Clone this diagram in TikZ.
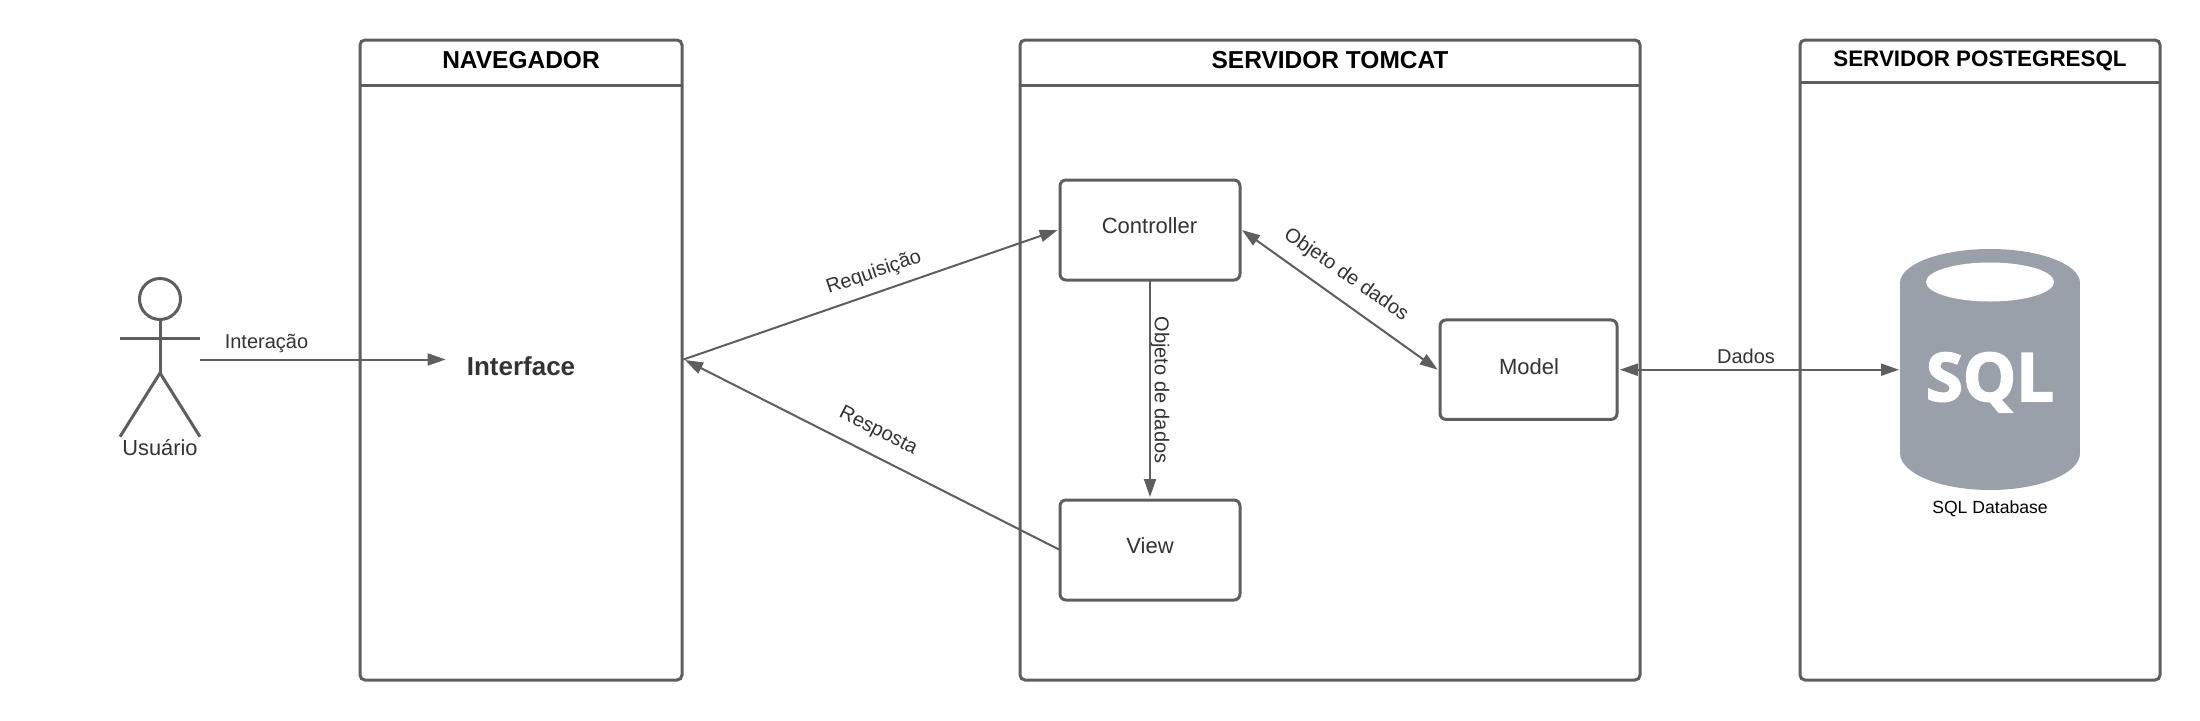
\documentclass[tikz,border=0pt]{standalone}
\usepackage{fontspec}
\setmainfont{Liberation Sans}
\newfontfamily\sqlfont{Open Sans}[BoldFeatures={FakeBold=2.5}]
\usetikzlibrary{arrows.meta}
\definecolor{lineg}{HTML}{5E5E5E}
\definecolor{dbg}{HTML}{99A0AA}
\definecolor{txt}{HTML}{333333}
\newcommand{\fsz}[1]{\fontsize{#1}{#1}\selectfont}
\tikzset{
  x=1pt,y=-1pt,
  panel/.style={draw=lineg,line width=3pt,rounded corners=5pt,inner sep=0,outer sep=0},
  mvcbox/.style={draw=lineg,line width=3pt,rounded corners=6pt,inner sep=0,outer sep=0,minimum width=#1,minimum height=100pt,text=txt,font=\fsz{22}},
  ttl/.style={inner sep=0,font=\bfseries\fsz{24.5},text=black},
  lbl/.style={inner sep=0,font=\fsz{20},text=txt},
  conn/.style={draw=lineg,line width=2pt},
  tip/.style={-{Triangle[length=18pt,width=12pt]}},
  tips/.style={{Triangle[length=18pt,width=12pt]}-{Triangle[length=18pt,width=12pt]}},
  stick/.style={draw=lineg,line width=3pt},
}
\begin{document}
\begin{tikzpicture}
\useasboundingbox[fill=white] (0,0) rectangle (2200,720);
% panels
\node[panel,minimum width=322pt,minimum height=640pt] (nav) at (521,360) {};
\node[panel,minimum width=620pt,minimum height=640pt] (tom) at (1330,360) {};
\node[panel,minimum width=360pt,minimum height=640pt] (pg) at (1980,360) {};
\draw[panel] ([yshift=-45.6pt]nav.north west) -- ([yshift=-45.6pt]nav.north east);
\draw[panel] ([yshift=-45.6pt]tom.north west) -- ([yshift=-45.6pt]tom.north east);
\draw[panel] ([yshift=-42.3pt]pg.north west) -- ([yshift=-42.3pt]pg.north east);
\node[ttl] (navt) at (521,60) {NAVEGADOR};
\node[ttl] (tomt) at (1330,60) {SERVIDOR TOMCAT};
\node[ttl,font=\bfseries\fsz{22.4}] (pgt) at (1980,60.5) {SERVIDOR POSTEGRESQL};
% actor
\node[draw=lineg,line width=3pt,circle,minimum size=41pt,inner sep=0,outer sep=0] (head) at (160,299) {};
\coordinate (hip) at (160,373);
\coordinate (armL) at (120,338.7);
\coordinate (armR) at (200,338.7);
\coordinate (legL) at (120,436.7);
\coordinate (legR) at (200,436.7);
\coordinate (hand) at (200,359.5);
\draw[stick] (head.south) -- (hip);
\draw[stick] (armL) -- (armR);
\draw[stick] (legL) -- (hip) -- (legR);
\node[inner sep=0,font=\fsz{21.8},text=txt] (usr) at (160,447.6) {Usuário};
% interface
\node[inner sep=21pt,font=\bfseries\fsz{26},text=txt] (iface) at (521,366) {Interface};
\draw[conn,tip] (hand) -- ([yshift=6.5pt]iface.west);
\node[lbl] (linter) at (266.5,343) {Interação};
% mvc boxes
\node[mvcbox=180pt] (ctrl) at (1150,230) {};
\node[mvcbox=180pt] (view) at (1150,550) {};
\node[mvcbox=177pt,minimum height=99.5pt] (model) at (1528.5,369.7) {};
\node[inner sep=0,font=\fsz{22},text=txt] (ctrlt) at (1149.5,226) {Controller};
\node[inner sep=0,font=\fsz{22},text=txt] (viewt) at (1150,546) {View};
\node[inner sep=0,font=\fsz{22},text=txt] (modelt) at (1529,366.5) {Model};
% connectors
\draw[conn,tip] (nav.east) -- ([xshift=-2.3pt]ctrl.west);
\draw[conn,tip] (view.west) -- ([xshift=3pt]nav.east);
\draw[conn,tips] ([xshift=2pt]ctrl.east) -- ([xshift=-2.3pt]model.west);
\draw[conn,tip] (ctrl.south) -- ([yshift=3pt]view.north);
% labels
\node[lbl,rotate=19] (lreq) at (874,273) {Requisição};
\node[lbl,rotate=-27] (lres) at (878,431.5) {Resposta};
\node[lbl,rotate=-35] (lobj1) at (1346,275) {Objeto de dados};
\node[lbl,rotate=-90] (lobj2) at (1160,390) {Objeto de dados};
\node[lbl] (ldad) at (1746,356) {Dados};
% database
\fill[dbg] (1900,283) rectangle (2080,453);
\fill[dbg] (1990,283) ellipse [x radius=90,y radius=34];
\fill[dbg] (1990,453) ellipse [x radius=90,y radius=37];
\fill[white] (1990,282) ellipse [x radius=64,y radius=19.5];
\node[inner sep=0,outer sep=1pt,minimum width=180pt,minimum height=241pt] (db) at (1990,369.7) {};
\node[anchor=base,inner sep=0,text=white,font=\sqlfont\bfseries\fsz{67}] (sqlt) at (1990,401) {SQL};
\node[inner sep=0,font=\fsz{17.6},text=black] (dbl) at (1990,508.5) {SQL Database};
\draw[conn,tips] ([xshift=2.8pt]model.east) -- (db.west);
\end{tikzpicture}
\end{document}
